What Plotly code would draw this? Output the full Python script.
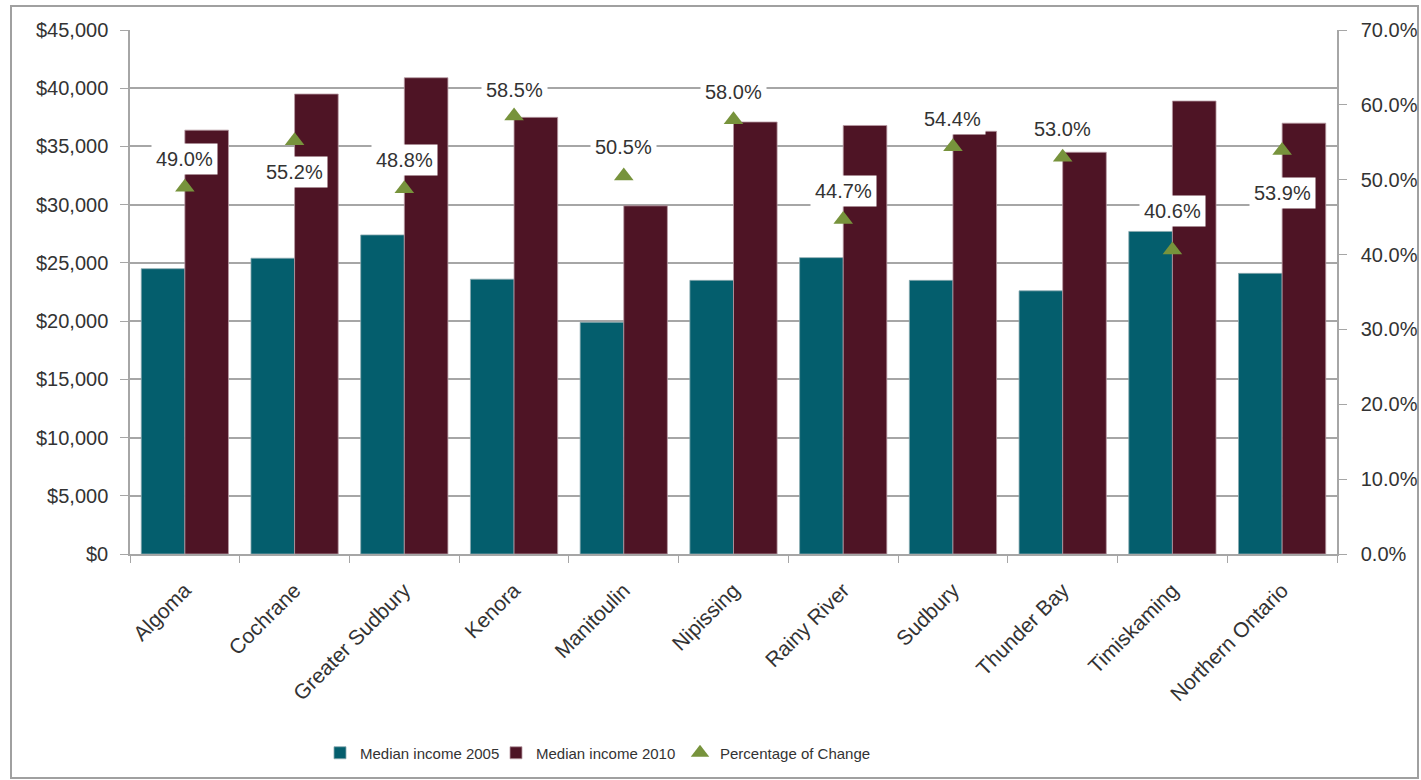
import plotly.graph_objects as go

categories = ["Algoma", "Cochrane", "Greater Sudbury", "Kenora", "Manitoulin",
              "Nipissing", "Rainy River", "Sudbury", "Thunder Bay", "Timiskaming",
              "Northern Ontario"]
income_2005 = [24500, 25400, 27400, 23600, 19900, 23500, 25450, 23500, 22600, 27700, 24100]
income_2010 = [36400, 39500, 40900, 37500, 29900, 37100, 36800, 36300, 34500, 38900, 37000]
pct_change = [0.490, 0.552, 0.488, 0.585, 0.505, 0.580, 0.447, 0.544, 0.530, 0.406, 0.539]

# label placement (px shift relative to marker): style only
label_shift = [28, -31, 29, 26, 29, 28, 28, 28, 28, 39, -42]

TEAL = "#045E6D"
MAROON = "#4E1425"
GREEN = "#77933C"
GRID = "#A6A6A6"
TXT = "#333333"
FONT = "Liberation Sans, Arial, sans-serif"

fig = go.Figure()
fig.add_trace(go.Bar(x=categories, y=income_2005, name="Median income 2005", legend="legend",
                     marker=dict(color=TEAL, line=dict(color="#8aa9b0", width=0.8))))
fig.add_trace(go.Bar(x=categories, y=income_2010, name="Median income 2010", legend="legend2",
                     marker=dict(color=MAROON, line=dict(color="#b89aa3", width=0.8))))
fig.add_trace(go.Scatter(x=categories, y=pct_change, name="Percentage of Change",
                         mode="markers", yaxis="y2", legend="legend3",
                         marker=dict(symbol="triangle-up", size=17, color=GREEN)))

for c, p, s in zip(categories, pct_change, label_shift):
    fig.add_annotation(x=c, y=p, xref="x", yref="y2", text=f"{p*100:.1f}%",
                       showarrow=False, yshift=s, bgcolor="white", borderpad=4,
                       font=dict(family=FONT, size=20, color=TXT))

L, R, T, B = 130, 84, 30, 226
W, H = 1421, 780
pw, ph = W - L - R, H - T - B
def px(x):
    return (x - L) / pw
def py(y):
    return (H - B - y) / ph

fig.add_shape(type="rect", xref="paper", yref="paper",
              x0=px(11), x1=px(1418), y0=py(778), y1=py(6),
              line=dict(color="#A0A0A0", width=2), layer="below")

leg_font = dict(family=FONT, size=15, color=TXT)
def leg(x_sym):
    return dict(orientation="h", x=px(x_sym - 20), xanchor="left", y=py(753),
                yanchor="middle", font=leg_font, bgcolor="rgba(0,0,0,0)")

fig.update_layout(
    width=W, height=H,
    margin=dict(l=L, r=R, t=T, b=B, autoexpand=False),
    paper_bgcolor="white", plot_bgcolor="white",
    barmode="group", bargap=0.205, bargroupgap=0,
    font=dict(family=FONT, size=20, color=TXT),
    xaxis=dict(type="category", range=[-0.5, len(categories) - 0.5],
               tickangle=-45, tickson="boundaries",
               ticks="outside", ticklen=7, tickcolor=GRID,
               showline=True, linecolor=GRID, linewidth=1.5,
               showgrid=False, ticklabelstandoff=14,
               tickfont=dict(size=21, color=TXT)),
    yaxis=dict(range=[0, 45000], dtick=5000, tickprefix="$", tickformat=",",
               showgrid=True, gridcolor=GRID, gridwidth=1.5,
               ticks="outside", ticklen=8, tickcolor=GRID,
               showline=True, linecolor=GRID, linewidth=1.5,
               zeroline=False, ticklabelstandoff=8,
               tickfont=dict(size=20, color=TXT)),
    yaxis2=dict(range=[0, 0.7], dtick=0.1, tickformat=".1%", overlaying="y",
                side="right", showgrid=False, zeroline=False,
                ticks="outside", ticklen=8, tickcolor=GRID,
                showline=True, linecolor=GRID, linewidth=1.5,
                ticklabelstandoff=10,
                tickfont=dict(size=20, color=TXT)),
    legend=leg(340),
    legend2=leg(516),
    legend3=leg(700),
    showlegend=True,
)

post = "document.body.style.margin='0';document.body.style.overflow='hidden';"
fig.write_html("out.html", config={"displayModeBar": False}, post_script=post)
